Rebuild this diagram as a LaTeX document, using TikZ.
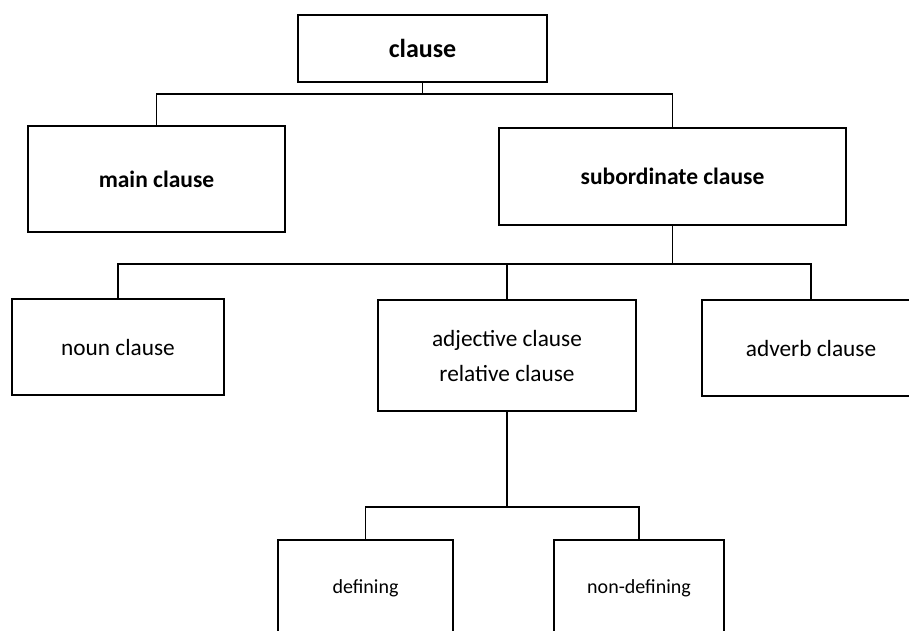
\documentclass[tikz,border=0pt]{standalone}
\usepackage{fontspec}
\setmainfont{Carlito}
\usepackage{tikz}

\begin{document}
\begin{tikzpicture}[
    x=1pt,y=-1pt,
    box/.style={draw,line width=1.3pt,align=center,inner sep=0pt},
    head/.style={font=\bfseries\fontsize{23.5}{28}\selectfont},
    mid/.style={font=\fontsize{23.3}{35}\selectfont},
    low/.style={font=\fontsize{20}{24}\selectfont},
    link/.style={draw,line width=1.3pt}
  ]
    \useasboundingbox (0,0) rectangle (909,630);
    % level 1
    \node[box,font=\bfseries\fontsize{26}{30}\selectfont,minimum width=249pt,minimum height=67pt] (clause) at (422.5,48.5) {clause};
    % level 2
    \node[box,head,minimum width=257pt,minimum height=106pt] (main) at (156.5,179) {main clause};
    \node[box,head,minimum width=347pt,minimum height=97pt] (sub) at (672.5,176.5) {subordinate clause};
    % level 3
    \node[box,mid,minimum width=212pt,minimum height=96pt] (noun) at (118,347) {noun clause};
    \node[box,mid,minimum width=258pt,minimum height=111pt] (adj) at (507,355.5) {adjective clause\\relative clause};
    \node[box,mid,minimum width=218pt,minimum height=96pt] (adv) at (811,348) {adverb clause};
    % level 4
    \node[box,low,minimum width=175pt,minimum height=96pt] (def) at (365.5,588) {defining};
    \node[box,low,minimum width=170pt,minimum height=96pt] (ndef) at (639,588) {non-defining};
    % joints
    \coordinate (j1) at (422.5,94);
    \coordinate (j2) at (672.5,264);
    \coordinate (j3) at (507,507);
    \draw[link] (clause.south) -- (j1) -| (main.north);
    \draw[link] (j1) -| (sub.north);
    \draw[link] (sub.south) -- (j2) -| (noun.north);
    \draw[link] (j2) -| (adj.north);
    \draw[link] (j2) -| (adv.north);
    \draw[link] (adj.south) -- (j3) -| (def.north);
    \draw[link] (j3) -| (ndef.north);
  \end{tikzpicture}
\end{document}
